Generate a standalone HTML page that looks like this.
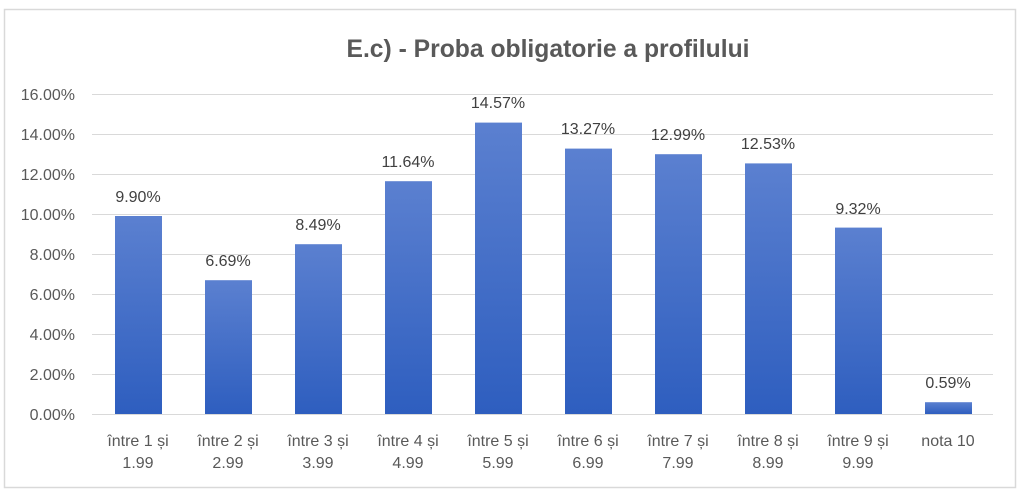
<!DOCTYPE html>
<html><head><meta charset="utf-8"><style>body{margin:0;background:#fff}svg{display:block}</style></head><body>
<svg width="1023" height="496" xmlns="http://www.w3.org/2000/svg" font-family="Liberation Sans, sans-serif">
<defs><linearGradient id="g" x1="0" y1="0" x2="0" y2="1"><stop offset="0" stop-color="#5b80d0"/><stop offset="1" stop-color="#2e5ebf"/></linearGradient></defs>
<rect x="4.5" y="9.5" width="1011" height="478" fill="#fff" stroke="#d9d9d9" stroke-width="1.5"/>
<text x="548" y="57" text-anchor="middle" font-size="25" font-weight="bold" fill="#595959" textLength="403" lengthAdjust="spacingAndGlyphs">E.c) - Proba obligatorie a profilului</text>
<g stroke="#d9d9d9" stroke-width="1">
<line x1="92" x2="993" y1="94.5" y2="94.5"/><line x1="92" x2="993" y1="134.5" y2="134.5"/><line x1="92" x2="993" y1="174.5" y2="174.5"/><line x1="92" x2="993" y1="214.5" y2="214.5"/><line x1="92" x2="993" y1="254.5" y2="254.5"/><line x1="92" x2="993" y1="294.5" y2="294.5"/><line x1="92" x2="993" y1="334.5" y2="334.5"/><line x1="92" x2="993" y1="374.5" y2="374.5"/><line x1="92" x2="993" y1="414.5" y2="414.5"/>
</g>
<g font-size="16" fill="#595959" text-anchor="end">
<text x="75" y="100">16.00%</text><text x="75" y="140">14.00%</text><text x="75" y="180">12.00%</text><text x="75" y="220">10.00%</text><text x="75" y="260">8.00%</text><text x="75" y="300">6.00%</text><text x="75" y="340">4.00%</text><text x="75" y="380">2.00%</text><text x="75" y="420">0.00%</text>
</g>
<g fill="url(#g)">
<rect x="115" y="216" width="47" height="198"/>
<rect x="205" y="280.2" width="47" height="133.8"/>
<rect x="295" y="244.2" width="47" height="169.8"/>
<rect x="385" y="181.2" width="47" height="232.8"/>
<rect x="475" y="122.6" width="47" height="291.4"/>
<rect x="565" y="148.6" width="47" height="265.4"/>
<rect x="655" y="154.2" width="47" height="259.8"/>
<rect x="745" y="163.4" width="47" height="250.6"/>
<rect x="835" y="227.6" width="47" height="186.4"/>
<rect x="925" y="402.2" width="47" height="11.8"/>
</g>
<g font-size="16" fill="#404040" text-anchor="middle">
<text x="138" y="202">9.90%</text><text x="228" y="266">6.69%</text><text x="318" y="230">8.49%</text><text x="408" y="167">11.64%</text><text x="498" y="108">14.57%</text><text x="588" y="134">13.27%</text><text x="678" y="140">12.99%</text><text x="768" y="149">12.53%</text><text x="858" y="214">9.32%</text><text x="948" y="388">0.59%</text>
</g>
<g font-size="16" fill="#595959" text-anchor="middle">
<text x="138" y="446">între 1 și</text><text x="138" y="468">1.99</text>
<text x="228" y="446">între 2 și</text><text x="228" y="468">2.99</text>
<text x="318" y="446">între 3 și</text><text x="318" y="468">3.99</text>
<text x="408" y="446">între 4 și</text><text x="408" y="468">4.99</text>
<text x="498" y="446">între 5 și</text><text x="498" y="468">5.99</text>
<text x="588" y="446">între 6 și</text><text x="588" y="468">6.99</text>
<text x="678" y="446">între 7 și</text><text x="678" y="468">7.99</text>
<text x="768" y="446">între 8 și</text><text x="768" y="468">8.99</text>
<text x="858" y="446">între 9 și</text><text x="858" y="468">9.99</text>
<text x="948" y="446">nota 10</text>
</g>
</svg>
</body></html>
